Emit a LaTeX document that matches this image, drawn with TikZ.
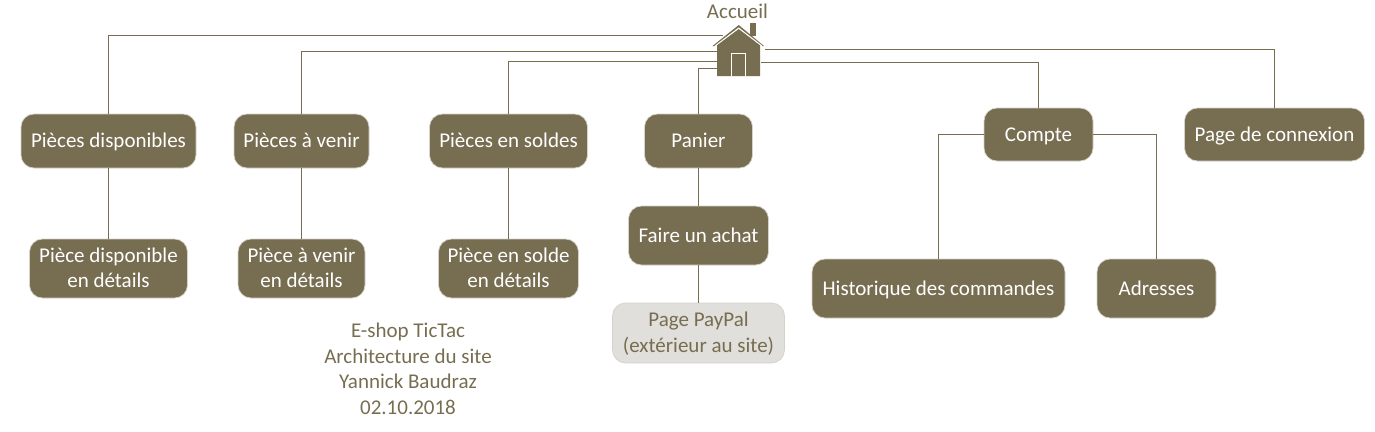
\documentclass[tikz,border=0pt]{standalone}
\usepackage{fontspec}
\setmainfont{Carlito}
\definecolor{brun}{HTML}{776D51}
\definecolor{pale}{HTML}{E1DFDB}
\definecolor{bord}{HTML}{D5D2C8}
\newcommand{\st}{\rule[-5.8pt]{0pt}{24.8pt}}
\begin{document}
\begin{tikzpicture}[x=1pt,y=-1pt,
  box/.style={draw=bord,line width=0.7pt,fill=brun,text=white,rounded corners=13pt,inner sep=0pt,align=center,font=\fontsize{21}{25.5}\selectfont},
  ext/.style={box,fill=pale,text=brun},
  link/.style={draw=brun,line width=1.1pt},
  lbl/.style={text=brun,inner sep=0pt,align=center,font=\fontsize{21}{25.5}\selectfont}]
\useasboundingbox (0,0) rectangle (1375,431);
\newcommand{\boxat}[7][box]{\node[#1,minimum width=#4pt-#3pt,minimum height=#6pt-#5pt] (#2) at ({(#3+#4)/2},{(#5+#6)/2}) {#7};}
\boxat{dispo}{21}{196}{114}{168}{\st Pièces disponibles}
\boxat{venir}{234}{369}{114}{168}{\st Pièces à venir}
\boxat{soldes}{429.5}{587.5}{114}{168}{\st Pièces en soldes}
\boxat{panier}{644.5}{752.5}{114}{168}{\st Panier}
\boxat{compte}{984}{1093}{108}{161}{\st Compte}
\boxat{connexion}{1184.5}{1364.5}{108}{161}{\st Page de connexion}
\boxat{ddispo}{29.5}{187.5}{239}{298}{\st Pièce disponible\\\st en détails}
\boxat{dvenir}{238}{365}{239}{298}{\st Pièce à venir\\\st en détails}
\boxat{dsolde}{438.5}{578.5}{239}{298}{\st Pièce en solde\\\st en détails}
\boxat{achat}{628.5}{768.5}{206}{265}{\st Faire un achat}
\boxat[ext]{paypal}{612.5}{784.5}{303}{363}{\st Page PayPal\\\st (extérieur au site)}
\boxat{histo}{812}{1065}{259}{318}{\st Historique des commandes}
\boxat{adr}{1097}{1216}{259}{318}{\st Adresses}
\node[lbl] (accueil) at (737.5,11) {Accueil};
\node[lbl] (titre) at (408,369) {E-shop TicTac\\Architecture du site\\Yannick Baudraz\\02.10.2018};
% house
\fill[brun] (750,23) rectangle (756,36);
\fill[brun] (717,45) -- (738.7,29) -- (760,45) -- (760,76) -- (717,76) -- cycle;
\fill[brun] (712.5,46) -- (738.7,25) -- (764,46) -- (762,46) -- (738.7,28) -- (715,46) -- cycle;
\draw[white,line width=0.9pt] (715,46) -- (738.7,28) -- (762,46);
\draw[white,line width=0.9pt] (731.5,76) -- (731.5,53.5) -- (745.5,53.5) -- (745.5,76);
\coordinate (h1) at (723,35.5);
\coordinate (h2) at (717,51.5);
\coordinate (h3) at (717,61.5);
\coordinate (h4) at (717,68.5);
\coordinate (h5) at (765,49.5);
\coordinate (h6) at (761,62.5);
% connectors
\draw[link] (h1) -| (dispo.north);
\draw[link] (h2) -| (venir.north);
\draw[link] (h3) -| (soldes.north);
\draw[link] (h4) -| (panier.north);
\draw[link] (h5) -| (connexion.north);
\draw[link] (h6) -| (compte.north);
\draw[link] (dispo) -- (ddispo);
\draw[link] (venir) -- (dvenir);
\draw[link] (soldes) -- (dsolde);
\draw[link] (panier) -- (achat);
\draw[link] (achat) -- (paypal);
\draw[link] (compte.west) -| (histo.north);
\draw[link] (compte.east) -| (adr.north);
\end{tikzpicture}
\end{document}
